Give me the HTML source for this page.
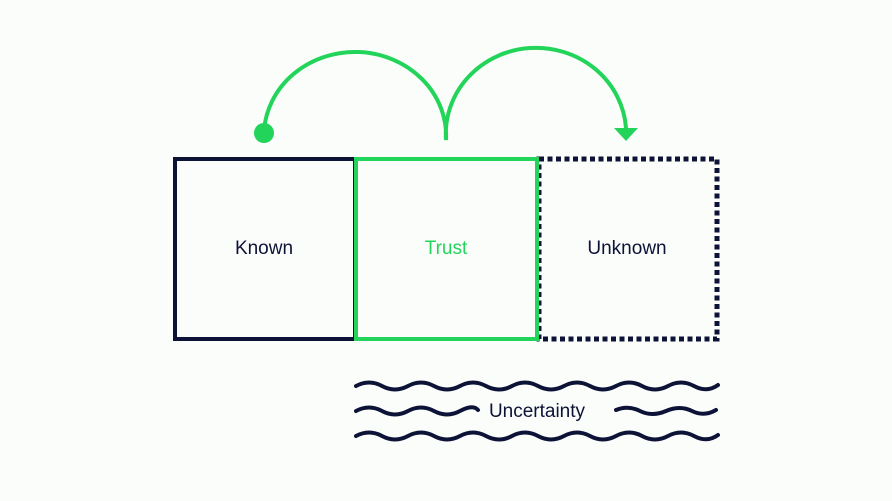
<!DOCTYPE html>
<html><head><style>
html,body{margin:0;padding:0;background:#fbfdfb;}
svg{display:block}
text{font-family:"Liberation Sans",sans-serif;font-size:19px;}
</style></head><body>
<svg width="892" height="501" viewBox="0 0 892 501">
<rect x="175" y="159" width="180" height="180" fill="none" stroke="#0d1237" stroke-width="4"/>
<rect x="539" y="159" width="178" height="180" fill="none" stroke="#0d1237" stroke-width="5" stroke-dasharray="5 3.5"/>
<rect x="356" y="159" width="181" height="180" fill="none" stroke="#22d55a" stroke-width="4"/>
<text x="264" y="254" text-anchor="middle" fill="#0d1237">Known</text>
<text x="446" y="254" text-anchor="middle" fill="#22d55a">Trust</text>
<text x="627" y="254" text-anchor="middle" fill="#0d1237">Unknown</text>
<path d="M264 132 A91 84 0 0 1 446 140 A90 86 0 0 1 626 128" fill="none" stroke="#22d55a" stroke-width="4"/>
<circle cx="264" cy="133" r="10" fill="#22d55a"/>
<polygon points="614,128 638,128 626,141" fill="#22d55a"/>
<g fill="none" stroke="#0d1237" stroke-width="4" stroke-linecap="round">
<path d="M356 386 q13 -7 26 0 t26 0 t26 0 t26 0 t26 0 t26 0 t26 0 t26 0 t26 0 t26 0 t26 0 t26 0 t26 0 t24 -1"/>
<path d="M356 436 q13 -7 26 0 t26 0 t26 0 t26 0 t26 0 t26 0 t26 0 t26 0 t26 0 t26 0 t26 0 t26 0 t26 0 t24 -1"/>
<path d="M356 411 q13 -7 26 0 t26 0 t26 0 t26 0 t18 -1"/>
<path d="M616 410 q12 -5 24 1 t26 0 t26 0 t24 -1"/>
</g>
<text x="537" y="417" text-anchor="middle" fill="#0d1237">Uncertainty</text>
</svg>
</body></html>
